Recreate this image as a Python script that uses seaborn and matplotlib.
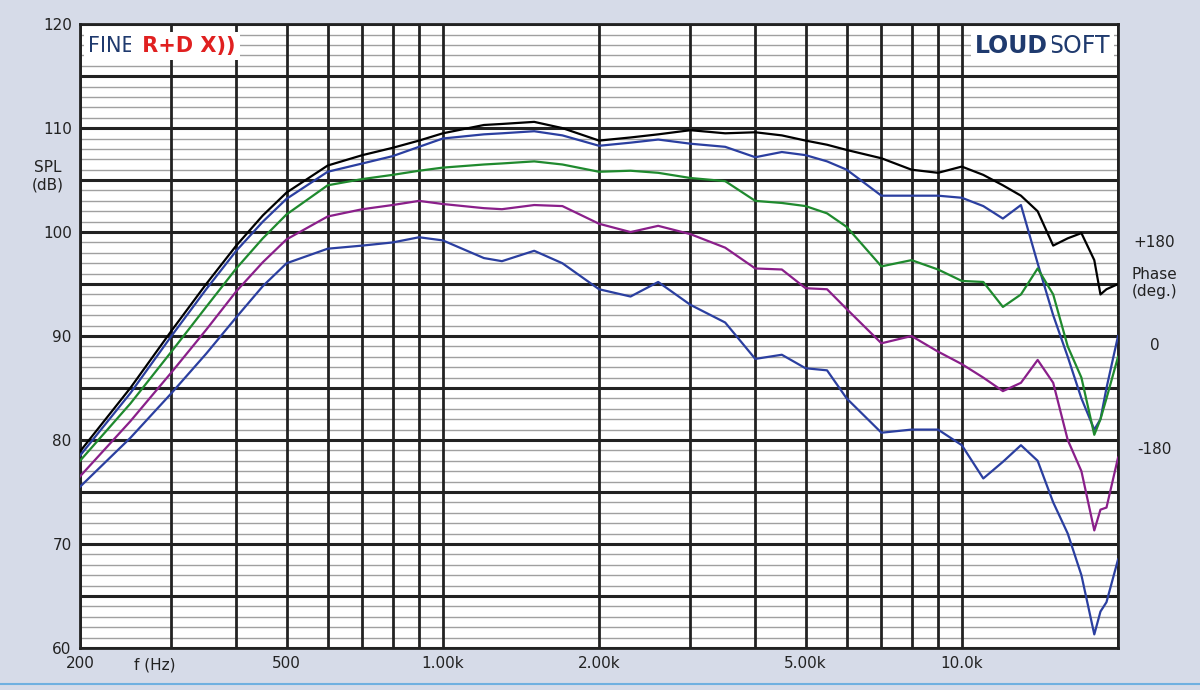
import numpy as np
import pandas as pd
import matplotlib
matplotlib.use('Agg')
import matplotlib.pyplot as plt
import seaborn as sns

FREQ = [200, 250, 300, 350, 400, 450, 500, 600, 700, 800, 900, 1000, 1200, 1300, 1500, 1700, 2000,
        2300, 2600, 3000, 3500, 4000, 4500, 5000, 5500, 6000, 7000, 8000, 9000,
        10000, 11000, 12000, 13000, 14000, 15000, 16000, 17000, 18000, 18500, 19000, 20000]

SPL_BLACK = [78.9, 85.0, 90.5, 95.0, 98.7, 101.6, 103.8, 106.4, 107.4, 108.1, 108.8, 109.5, 110.3, 110.4, 110.6, 110.0, 108.8,
             109.1, 109.4, 109.8, 109.5, 109.6, 109.3, 108.8, 108.4, 107.9, 107.1, 106.0, 105.7,
             106.3, 105.5, 104.5, 103.5, 102.0, 98.7, 99.4, 99.9, 97.3, 94.0, 94.5, 95.0]
SPL_BLUE = [78.5, 84.5, 90.0, 94.5, 98.2, 101.0, 103.2, 105.8, 106.6, 107.3, 108.2, 109.0, 109.4, 109.5, 109.7, 109.3, 108.3,
            108.6, 108.9, 108.5, 108.2, 107.2, 107.7, 107.4, 106.8, 106.0, 103.5, 103.5, 103.5,
            103.3, 102.5, 101.3, 102.6, 97.0, 92.0, 88.0, 84.0, 81.0, 82.0, 85.0, 90.0]
SPL_GREEN = [78.0, 83.5, 88.5, 92.8, 96.5, 99.4, 101.7, 104.5, 105.1, 105.5, 105.9, 106.2, 106.5, 106.6, 106.8, 106.5, 105.8,
             105.9, 105.7, 105.2, 104.9, 103.0, 102.8, 102.5, 101.8, 100.5, 96.7, 97.3, 96.4,
             95.3, 95.2, 92.8, 94.0, 96.5, 94.0, 89.0, 86.0, 80.5, 82.0, 84.0, 88.0]
SPL_PURPLE = [76.5, 81.8, 86.5, 90.6, 94.3, 97.1, 99.3, 101.5, 102.2, 102.6, 103.0, 102.7, 102.3, 102.2, 102.6, 102.5, 100.8,
              100.0, 100.6, 99.8, 98.5, 96.5, 96.4, 94.6, 94.5, 92.6, 89.3, 90.0, 88.5,
              87.3, 86.0, 84.7, 85.5, 87.7, 85.5, 80.0, 77.0, 71.3, 73.3, 73.5, 78.3]
SPL_BLUE2 = [75.5, 80.2, 84.5, 88.3, 91.8, 94.8, 97.0, 98.4, 98.7, 99.0, 99.5, 99.2, 97.5, 97.2, 98.2, 97.0, 94.5,
             93.8, 95.2, 93.0, 91.3, 87.8, 88.2, 86.9, 86.7, 84.0, 80.7, 81.0, 81.0,
             79.5, 76.3, 77.9, 79.5, 78.0, 74.0, 71.0, 67.0, 61.3, 63.5, 64.4, 68.5]

SERIES = [("0", SPL_BLACK, "#000000"), ("1", SPL_BLUE, "#2b3fa0"), ("2", SPL_GREEN, "#1f8a2e"),
          ("3", SPL_PURPLE, "#8a1f8a"), ("4", SPL_BLUE2, "#2b3fa0")]

XTICKS = [200, 500, 1000, 2000, 5000, 10000]
XLABELS = ["200", "500", "1.00k", "2.00k", "5.00k", "10.0k"]
YTICKS = [60, 70, 80, 90, 100, 110, 120]

BG = "#d6dbe8"

fig = plt.figure(figsize=(12, 6.9), dpi=100, facecolor=BG)
ax = fig.add_axes([0.0667, 0.061, 0.865, 0.904])
ax.set_facecolor("white")

# grid: 1 dB thin, 5 dB bold, decade-style vertical lines
for v in range(60, 121):
    bold = v % 5 == 0
    ax.axhline(v, color="#222222" if bold else "#a0a0a0", lw=2.2 if bold else 1.0, zorder=1)
vlines = [f * m for m in (100, 1000, 10000) for f in range(1, 10)] + [20000]
for f in vlines:
    if 200 <= f <= 20000:
        ax.axvline(f, color="#222222", lw=2.0, zorder=1)

for name, vals, col in SERIES:
    df = pd.DataFrame({"f": FREQ, "spl": vals})
    sns.lineplot(data=df, x="f", y="spl", color=col, lw=1.6, ax=ax, zorder=3)

ax.set_xscale("log")
ax.set_xlim(200, 20000)
ax.set_ylim(60, 120)
ax.set_xticks(XTICKS)
ax.set_xticklabels(XLABELS)
ax.xaxis.set_minor_locator(matplotlib.ticker.NullLocator())
ax.set_yticks(YTICKS)
ax.tick_params(length=0, labelsize=11, colors="#222222", pad=6)
ax.set_xlabel("")
ax.set_ylabel("")
for s in ax.spines.values():
    s.set_color("#222222")
    s.set_linewidth(2)

fig.text(0.04, 0.745, "SPL\n(dB)", ha="center", va="center", fontsize=11, color="#222222")
fig.text(0.129, 0.036, "f (Hz)", ha="center", va="center", fontsize=11, color="#222222")
fig.text(0.962, 0.649, "+180", ha="center", va="center", fontsize=11, color="#222222")
fig.text(0.962, 0.59, "Phase\n(deg.)", ha="center", va="center", fontsize=11, color="#222222")
fig.text(0.962, 0.499, "0", ha="center", va="center", fontsize=11, color="#222222")
fig.text(0.962, 0.348, "-180", ha="center", va="center", fontsize=11, color="#222222")

# logos: white panels behind, then two-tone words chained together
box = dict(facecolor="white", edgecolor="none", pad=3)
fine = ax.text(0.008, 0.965, "FINE", transform=ax.transAxes, fontsize=15, color="#1f3a6e",
               va="center", ha="left", zorder=5, bbox=box)
ax.annotate(" R+D X))", xy=(1, 0.5), xycoords=fine, fontsize=15, color="#e02020",
            fontweight="bold", va="center", ha="left", zorder=5, bbox=box)
soft = ax.text(0.992, 0.965, "SOFT", transform=ax.transAxes, fontsize=17, color="#1f3a6e",
               va="center", ha="right", zorder=5, bbox=box)
ax.annotate("LOUD", xy=(0, 0.5), xycoords=soft, fontsize=17, color="#1f3a6e",
            fontweight="bold", va="center", ha="right", zorder=5, bbox=box)

fig.add_artist(plt.Line2D([0, 1], [0.008, 0.008], color="#6fb0e0", lw=1.5))

fig.savefig("out.png", dpi=100, facecolor=BG)
